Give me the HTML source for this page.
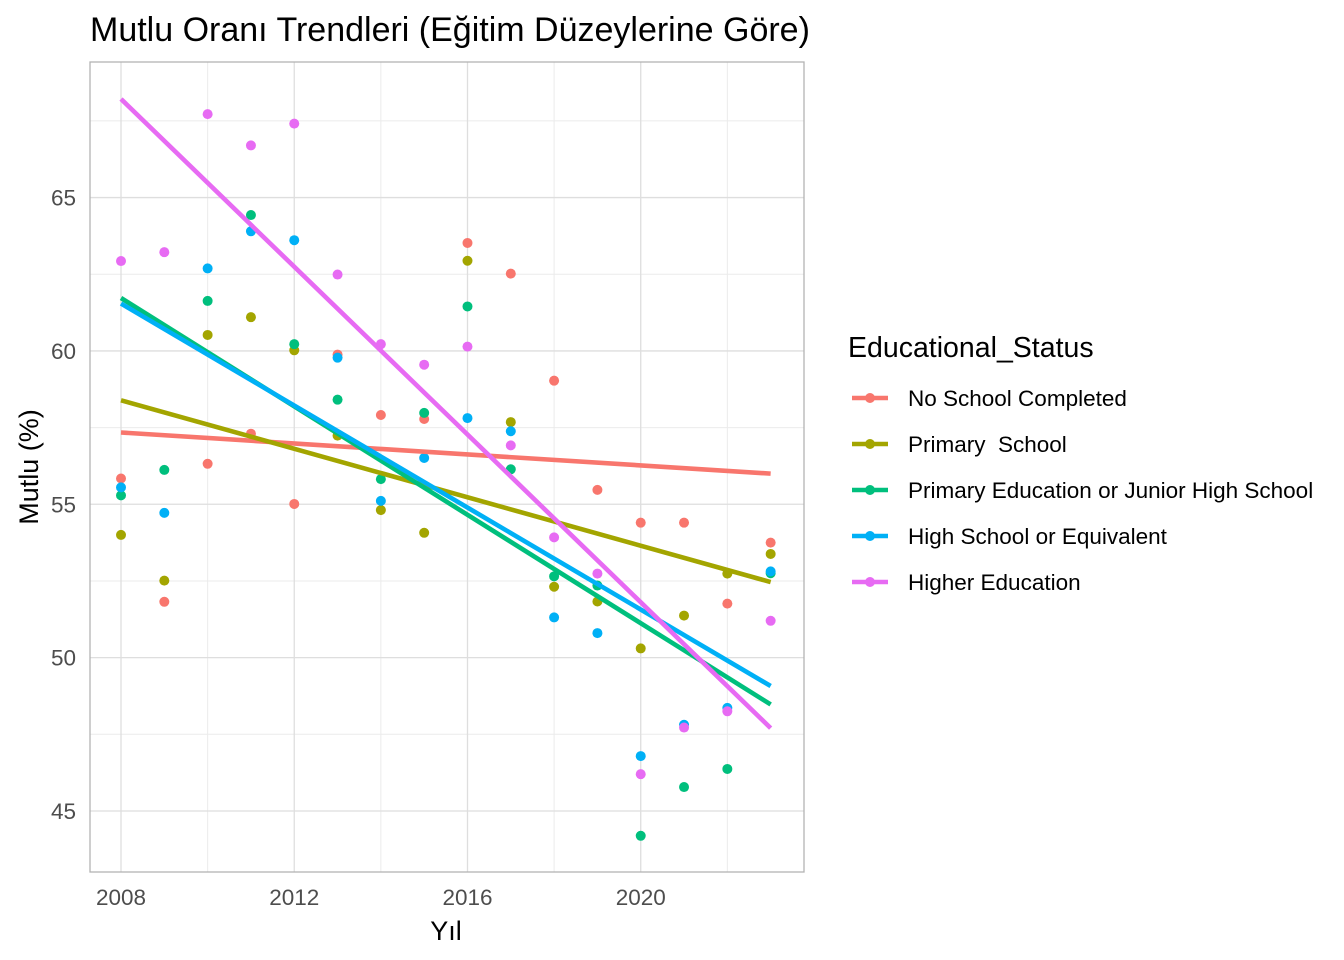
<!DOCTYPE html>
<html><head><meta charset="utf-8"><style>
body{margin:0;background:#fff;}
svg{display:block;font-family:"Liberation Sans","DejaVu Sans",sans-serif;}
</style></head><body>
<svg id="chart" width="1344" height="960"></svg>
<script>
const years=[2008,2009,2010,2011,2012,2013,2014,2015,2016,2017,2018,2019,2020,2021,2022,2023];
const seriesNames=["No School Completed","Primary  School","Primary Education or Junior High School","High School or Equivalent","Higher Education"];
const colors=["#F8766D","#A3A500","#00BF7D","#00B0F6","#E76BF3"];
const noSchool=[55.84,51.82,56.32,57.3,55.01,59.88,57.91,57.78,63.52,62.52,59.03,55.47,54.4,54.4,51.76,53.75];
const primarySchool=[54.0,52.51,60.52,61.1,60.02,57.24,54.81,54.07,62.94,57.68,52.31,51.83,50.3,51.37,52.74,53.38];
const primaryEdu=[55.29,56.12,61.63,64.43,60.22,58.41,55.82,57.98,61.45,56.14,52.65,52.35,44.19,45.78,46.37,52.75];
const highSchool=[55.55,54.72,62.69,63.9,63.61,59.78,55.11,56.51,57.81,57.38,51.31,50.8,46.79,47.81,48.36,52.81];
const higherEdu=[62.93,63.22,67.72,66.7,67.41,62.49,60.22,59.55,60.14,56.92,53.92,52.74,46.2,47.72,48.25,51.2];
const allSeries=[noSchool,primarySchool,primaryEdu,highSchool,higherEdu];
const xTicks=[2008,2012,2016,2020];
const xMinor=[2010,2014,2018,2022];
const yTicks=[45,50,55,60,65];
const yMinor=[47.5,52.5,57.5,62.5,67.5];

const NS="http://www.w3.org/2000/svg";
const svg=document.getElementById('chart');
const L=90,R=804,T=62,B=872;
const xMin=2007.284,xMax=2023.77,yMin=43.01,yMax=69.42;
const X=v=>L+(v-xMin)/(xMax-xMin)*(R-L);
const Y=v=>B-(v-yMin)/(yMax-yMin)*(B-T);
function mk(tag,attrs,parent){const e=document.createElementNS(NS,tag);for(const k in attrs)e.setAttribute(k,attrs[k]);(parent||svg).appendChild(e);return e;}

const grid=mk('g',{});


xMinor.forEach(v=>mk('line',{x1:X(v),x2:X(v),y1:T,y2:B,stroke:'#ebebeb','stroke-width':1},grid));
yMinor.forEach(v=>mk('line',{x1:L,x2:R,y1:Y(v),y2:Y(v),stroke:'#ebebeb','stroke-width':1},grid));
xTicks.forEach(v=>mk('line',{x1:X(v),x2:X(v),y1:T,y2:B,stroke:'#dedede','stroke-width':1.3},grid));
yTicks.forEach(v=>mk('line',{x1:L,x2:R,y1:Y(v),y2:Y(v),stroke:'#dedede','stroke-width':1.3},grid));

allSeries.forEach((s,i)=>{
  const g=mk('g',{});
  
  
  s.forEach((v,j)=>{
    const c=mk('circle',{cx:X(years[j]),cy:Y(v),r:5,fill:colors[i]},g);
    
    
  });
});
allSeries.forEach((s,i)=>{
  const n=years.length;let mx=0,my=0;
  years.forEach((x,j)=>{mx+=x;my+=s[j];});mx/=n;my/=n;
  let sxy=0,sxx=0;years.forEach((x,j)=>{sxy+=(x-mx)*(s[j]-my);sxx+=(x-mx)*(x-mx);});
  const b=sxy/sxx,a=my-b*mx;
  const x0=years[0],x1=years[n-1];
  const ln=mk('line',{x1:X(x0),y1:Y(a+b*x0),x2:X(x1),y2:Y(a+b*x1),stroke:colors[i],'stroke-width':4.6});
  
  
});
const border=mk('rect',{x:L,y:T,width:R-L,height:B-T,fill:'none',stroke:'#b3b3b3','stroke-width':1.3});



xTicks.forEach(v=>{
  const t=mk('text',{x:X(v),y:905,'text-anchor':'middle','font-size':22.5,fill:'#4d4d4d'});t.textContent=v;
  
  
});
yTicks.forEach(v=>{
  const t=mk('text',{x:76,y:Y(v)+8,'text-anchor':'end','font-size':22.5,fill:'#4d4d4d'});t.textContent=v;
  
  
});
let t=mk('text',{x:446,y:940,'text-anchor':'middle','font-size':27,fill:'#000'});t.textContent='Yıl';


t=mk('text',{x:0,y:0,'text-anchor':'middle','font-size':27,fill:'#000',transform:'translate(38,467) rotate(-90)'});t.textContent='Mutlu (%)';


t=mk('text',{x:90,y:41,'font-size':34,fill:'#000'});t.textContent='Mutlu Oranı Trendleri (Eğitim Düzeylerine Göre)';


t=mk('text',{x:848,y:357,'font-size':28.5,fill:'#000'});t.textContent='Educational_Status';


seriesNames.forEach((nm,i)=>{
  const y=398+i*46;
  const g=mk('g',{});
  
  
  mk('line',{x1:852,x2:888,y1:y,y2:y,stroke:colors[i],'stroke-width':4.6},g);
  mk('circle',{cx:870,cy:y,r:5,fill:colors[i]},g);
  const tx=mk('text',{x:908,y:y+8,'font-size':22.5,fill:'#000'},g);
  tx.style.whiteSpace='pre';
  tx.textContent=nm;
});
</script>
</body></html>
